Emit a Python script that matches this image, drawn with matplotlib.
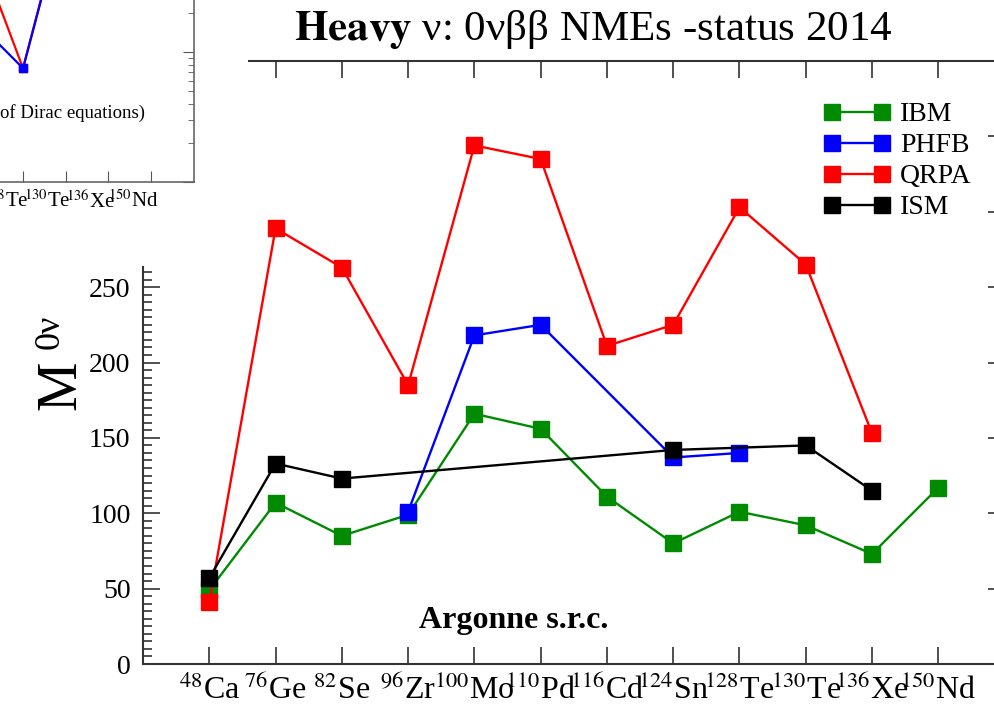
import numpy as np
import matplotlib
matplotlib.use('Agg')
import matplotlib.pyplot as plt
from matplotlib.patches import Rectangle
from matplotlib.ticker import MultipleLocator, LogLocator
from matplotlib.transforms import ScaledTranslation

plt.rcParams['font.family'] = ['Liberation Serif', 'DejaVu Serif']
plt.rcParams['mathtext.fontset'] = 'stix'

# isotopes on the x axis
masses = ['48', '76', '82', '96', '100', '110', '116', '124', '128', '130', '136', '150']
symbols = ['Ca', 'Ge', 'Se', 'Zr', 'Mo', 'Pd', 'Cd', 'Sn', 'Te', 'Te', 'Xe', 'Nd']

# heavy neutrino NMEs
ibm_x = [1, 2, 3, 4, 5, 6, 7, 8, 9, 10, 11, 12]
ibm = [49, 107, 85, 99, 166, 156, 111, 80, 101, 92, 73, 117]
phfb_x = [4, 5, 6, 8, 9]
phfb = [101, 218, 225, 137, 140]
qrpa_x = [1, 2, 3, 4, 5, 6, 7, 8, 9, 10, 11]
qrpa = [41, 289, 263, 185, 344, 335, 211, 225, 303, 265, 153]
ism_x = [1, 2, 3, 8, 10, 11]
ism = [57, 133, 123, 142, 145, 115]

# cut-off inset from the previous slide (light neutrino, log scale)
inset_x = [8, 9, 10]
inset_red = [56, 7.5, 137]
inset_blue = [16, 7.5, 130]

labels = [r'$^{%s}$%s' % (m, s) for m, s in zip(masses, symbols)]
W, H = 994, 721

fig = plt.figure(figsize=(9.94, 7.21), dpi=100)
ax = fig.add_axes([143 / W, 57 / H, 861.6 / W, 603 / H])

ax.plot(ibm_x, ibm, '-s', color='#008b00', lw=1.7, ms=11.5, label='IBM')
ax.plot(phfb_x, phfb, '-s', color='#0000ff', lw=1.7, ms=11.5, label='PHFB')
ax.plot(qrpa_x, qrpa, '-s', color='#ff0000', lw=1.7, ms=11.5, label='QRPA')
ax.plot(ism_x, ism, '-s', color='#000000', lw=1.7, ms=11.5, label='ISM')

ax.set_xlim(0, 13)
ax.set_ylim(0, 400)
ax.set_xticks(range(1, 13))
ax.set_xticklabels(labels, fontsize=23)
ax.yaxis.set_major_locator(MultipleLocator(50))
ax.yaxis.set_minor_locator(MultipleLocator(5))
ax.tick_params(which='both', direction='in', top=True, right=True, width=1.1, color='#222222')
ax.tick_params(which='major', length=12)
ax.tick_params(which='minor', length=6.5)
ax.tick_params(axis='y', labelsize=20, pad=9)
ax.tick_params(axis='x', pad=8)
ax.tick_params(axis='x', which='minor', top=False, bottom=False)
for sp in ax.spines.values():
    sp.set_linewidth(1.5)
    sp.set_color('#333333')

ax.text(5.6, 29, 'Argonne s.r.c.', fontsize=23, fontweight='bold', ha='center', va='center')

ax.legend(loc='upper left', bbox_to_anchor=(823.7 / W, (H - 102) / H), bbox_transform=fig.transFigure,
          frameon=False, numpoints=2, fontsize=20, handlelength=2.4, handletextpad=0.35,
          labelspacing=0.2, borderpad=0, borderaxespad=0)

# y label: M with superscript 0ν
fig.text(61 / W, (H - 385) / H, 'M', fontsize=40, rotation=90, ha='center', va='center')
fig.text(50 / W, (H - 332) / H, '0ν', fontsize=26, rotation=90, ha='center', va='center')

# white block where the previous slide's plot sits
fig.add_artist(Rectangle((0, (H - 266) / H), 248 / W, 266 / H, transform=fig.transFigure,
                         facecolor='white', edgecolor='none', zorder=5))

fig.text(593 / W, (H - 40) / H, r'$\mathbf{Heavy}$ ν: 0νββ NMEs -status 2014',
         fontsize=31, ha='center', va='baseline', zorder=6)

# partial inset
ins = fig.add_axes([-361 / W, (H - 182) / H, 554.7 / W, 390 / H])
ins.set_zorder(10)
ins.patch.set_alpha(0)
ins.plot(inset_x, inset_red, '-s', color='#ff0000', lw=1.6, ms=6)
ins.plot(inset_x, inset_blue, '-s', color='#0000ff', lw=1.6, ms=6)
ins.set_yscale('log')
ins.set_xlim(0, 13)
ins.set_ylim(1, 1000)
ins.set_xticks(range(1, 13))
ins.set_xticklabels(labels, fontsize=15)
ins.yaxis.set_major_locator(LogLocator(base=10))
ins.yaxis.set_minor_locator(LogLocator(base=10, subs=np.arange(2, 10)))
ins.yaxis.set_minor_formatter(plt.NullFormatter())
ins.tick_params(which='both', direction='in', top=True, right=True, labelleft=False, color='#555555')
ins.tick_params(which='major', length=8)
ins.tick_params(which='minor', length=4)
ins.tick_params(axis='x', pad=6)
ins.tick_params(axis='x', which='minor', top=False, bottom=False)
for sp in ins.spines.values():
    sp.set_color('#666666')
    sp.set_linewidth(1.2)
# the inset labels sit a bit left of their ticks
shift = ScaledTranslation(-18 / 100, 0, fig.dpi_scale_trans)
for lbl in ins.get_xticklabels():
    lbl.set_transform(lbl.get_transform() + shift)
ins.text(0, (H - 113) / H, 'of Dirac equations)', transform=fig.transFigure, fontsize=13.5,
         ha='left', va='center')

fig.savefig('out.png', dpi=100)
